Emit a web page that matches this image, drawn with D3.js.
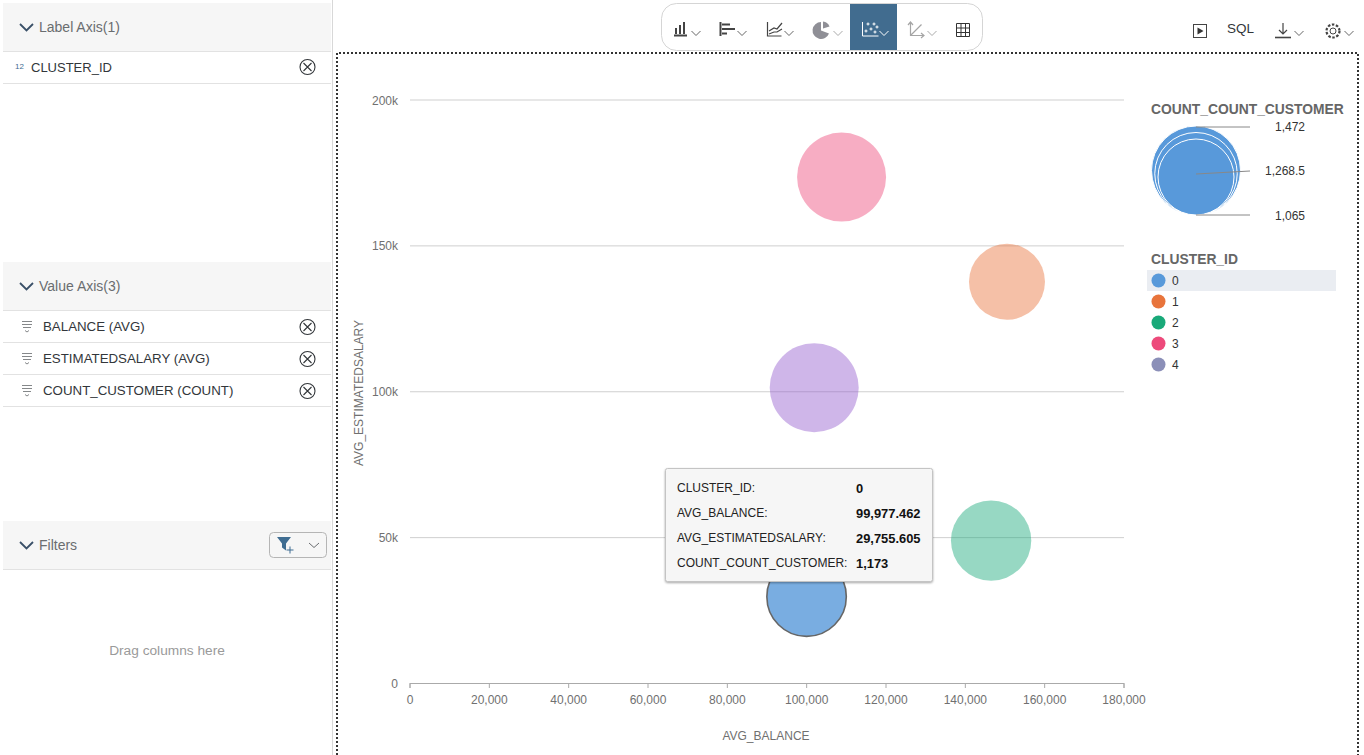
<!doctype html>
<html lang="en">
<head>
  <meta charset="utf-8">
  <title>Cluster bubble chart</title>
  <style>
    html, body { margin: 0; padding: 0; background: #fff; overflow: hidden; }
    svg { display: block; }
    text { font-family: "Liberation Sans", Arial, sans-serif; }
    .panelHead { font-size: 14px; fill: #6a6d70; }
    .panelRow { font-size: 13.3px; fill: #32363a; }
    .axisText { font-size: 12px; fill: #707070; }
    .legendTitle { font-size: 13.85px; font-weight: 700; fill: #666; }
    .legendText { font-size: 12px; fill: #333; }
    .tipLabel { font-size: 12px; fill: #222; }
    .tipValue { font-size: 12.9px; font-weight: 700; fill: #111; }
  </style>
  <script src="https://cdnjs.cloudflare.com/ajax/libs/d3/7.8.5/d3.min.js"></script>
</head>
<body>
<div id="chart"></div>
<script>
  // chart values
  var clusterIds = [0, 1, 2, 3, 4];
  var avgBalance = [99977.462, 150500, 146500, 108800, 101900];
  var avgSalary = [29755.605, 137700, 49000, 173600, 101400];
  var customerCount = [1173, 1065, 1200, 1472, 1472];
  var clusterColors = ["#5899DA", "#E8743B", "#19A979", "#ED4A7B", "#945ECF"];

  var xTicks = [0, 20000, 40000, 60000, 80000, 100000, 120000, 140000, 160000, 180000];
  var yTicks = [0, 50000, 100000, 150000, 200000];
  var sizeLegend = [1472, 1268.5, 1065];

  var labelFields = ["CLUSTER_ID"];
  var valueFields = ["BALANCE (AVG)", "ESTIMATEDSALARY (AVG)", "COUNT_CUSTOMER (COUNT)"];
  var tipLabels = ["CLUSTER_ID:", "AVG_BALANCE:", "AVG_ESTIMATEDSALARY:", "COUNT_COUNT_CUSTOMER:"];
  var tipValues = ["0", "99,977.462", "29,755.605", "1,173"];

  var svg = d3.select("#chart").append("svg")
      .attr("width", 1364)
      .attr("height", 755);

  var x = d3.scaleLinear().domain([0, 180000]).range([410, 1124]);
  var y = d3.scaleLinear().domain([0, 200000]).range([683.5, 100]);
  var r = d3.scaleLinear().domain([1065, 1472]).range([38, 44.5]);

  // left panel
  var panel = svg.append("g");

  function header(top, label) {
    panel.append("rect").attr("x", 3).attr("y", top).attr("width", 328).attr("height", 48).attr("fill", "#f6f6f6");
    panel.append("line").attr("x1", 3).attr("x2", 331).attr("y1", top + 48.5).attr("y2", top + 48.5).attr("stroke", "#e2e2e2");
    panel.append("path")
        .attr("d", "M20," + (top + 21) + "l6.5,6.5l6.5,-6.5")
        .attr("fill", "none").attr("stroke", "#3a5068").attr("stroke-width", 1.8);
    panel.append("text").attr("class", "panelHead").attr("x", 39).attr("y", top + 29).text(label);
  }

  function removeIcon(cy) {
    panel.append("circle").attr("cx", 307.5).attr("cy", cy).attr("r", 7.5)
        .attr("fill", "none").attr("stroke", "#32363a").attr("stroke-width", 1.1);
    panel.append("path")
        .attr("d", "M303.5," + (cy - 4) + "l8,8M311.5," + (cy - 4) + "l-8,8")
        .attr("fill", "none").attr("stroke", "#32363a").attr("stroke-width", 1.1);
  }

  function rowLine(yy) {
    panel.append("line").attr("x1", 3).attr("x2", 331).attr("y1", yy).attr("y2", yy).attr("stroke", "#e2e2e2");
  }

  header(3, "Label Axis(1)");
  labelFields.forEach(function(d, i) {
    var cy = 67 + i * 32;
    panel.append("text").attr("x", 15).attr("y", cy + 2).attr("font-size", 8).attr("fill", "#3f6d92").text("12");
    panel.append("text").attr("class", "panelRow").attr("x", 31).attr("y", cy + 5).style("font-size", "13px").text(d);
    removeIcon(cy);
    rowLine(cy + 16.5);
  });

  header(262, "Value Axis(3)");
  valueFields.forEach(function(d, i) {
    var cy = 327 + i * 32;
    panel.append("path")
        .attr("d", "M22," + (cy - 5.5) + "h10M22," + (cy - 2.5) + "h10M23," + (cy + 0.5) + "h8M25," + (cy + 3.5) + "l2,1.5l2,-1.5")
        .attr("fill", "none").attr("stroke", "#85888a");
    panel.append("text").attr("class", "panelRow").attr("x", 43).attr("y", cy + 4).text(d);
    removeIcon(cy);
    rowLine(cy + 15.5);
  });

  header(521, "Filters");
  panel.append("rect").attr("x", 269.5).attr("y", 532.5).attr("width", 57).attr("height", 25).attr("rx", 4)
      .attr("fill", "#f6f6f6").attr("stroke", "#b5b5b5");
  panel.append("path").attr("d", "M277,537h14l-5,6.5v7l-4,-3v-4z").attr("fill", "#3f6d92");
  panel.append("path").attr("d", "M290,546.5v7M286.5,550h7").attr("stroke", "#3f6d92").attr("fill", "none");
  panel.append("path").attr("d", "M309,543l5,4.5l5,-4.5").attr("stroke", "#6a6d70").attr("fill", "none");
  panel.append("text").attr("x", 167).attr("y", 655).attr("text-anchor", "middle")
      .attr("font-size", 13.7).attr("fill", "#9a9a9a").text("Drag columns here");

  panel.append("line").attr("x1", 332.5).attr("x2", 332.5).attr("y1", 0).attr("y2", 755).attr("stroke", "#d8d8d8");

  // toolbar
  var bar = svg.append("g").attr("fill", "none").attr("stroke", "#444");
  bar.append("rect").attr("x", 850).attr("y", 4).attr("width", 47).attr("height", 47).attr("fill", "#416c8f").attr("stroke", "none");
  bar.append("rect").attr("x", 661.5).attr("y", 3.5).attr("width", 321).attr("height", 47).attr("rx", 15)
      .attr("stroke", "#d5d5d5");

  function caret(cx, color) {
    bar.append("path").attr("d", "M" + (cx - 4.5) + ",31l4.5,4.5l4.5,-4.5").attr("stroke", color || "#666");
  }

  bar.append("path").attr("d", "M674,35.5h13M676,34v-6M680,34v-9M684,34v-12").attr("stroke-width", 2);
  caret(696);
  bar.append("path").attr("d", "M720.5,22v14M722,24.5h8M722,29h13M722,33.5h5").attr("stroke-width", 2);
  caret(742);
  bar.append("path").attr("d", "M767.5,22v14h14").attr("stroke-width", 1.2);
  bar.append("path").attr("d", "M769,31l5,-3l3,1l5,-6M769,34l5,-2l3,0l5,-3").attr("stroke-width", 1.2);
  caret(789);
  bar.append("path").attr("d", "M821,22a8.5,8.5 0 1 0 8,11.5l-8,-3z").attr("fill", "#8f8f96").attr("stroke", "none");
  bar.append("path").attr("d", "M823,21.5a8,8 0 0 1 6.5,5l-6.5,2z").attr("fill", "#8f8f96").attr("stroke", "none");
  caret(838, "#aaa");
  // scatter icon: axes and small plus marks
  bar.append("path").attr("d", "M862.5,22v14h16").attr("stroke", "#fff");
  [[868, 24], [874, 24], [871, 29], [877, 27], [866, 31], [875, 32]].forEach(function(p) {
    bar.append("path").attr("d", "M" + (p[0] - 1.5) + "," + p[1] + "h3M" + p[0] + "," + (p[1] - 1.5) + "v3").attr("stroke", "#fff");
  });
  caret(884, "#fff");
  bar.append("path").attr("d", "M910.5,23v12.5h13M910.5,35.5l11,-11M908,25l2.5,-3l2.5,3M921,33l3,2.5l-3,2.5").attr("stroke", "#a5a5a5").attr("stroke-width", 1.2);
  caret(932, "#aaa");
  bar.append("path").attr("d", "M956.5,23.5h13v13h-13zM956.5,28h13M956.5,32.5h13M961,23.5v13M965.5,23.5v13").attr("stroke", "#333");

  // right hand buttons
  bar.append("rect").attr("x", 1193.5).attr("y", 24.5).attr("width", 13).attr("height", 13).attr("stroke", "#444");
  bar.append("path").attr("d", "M1197.5,27.5l6,3.5l-6,3.5z").attr("fill", "#333").attr("stroke", "none");
  svg.append("text").attr("x", 1227).attr("y", 33).attr("font-size", 13.5).attr("fill", "#32363a").text("SQL");
  bar.append("path").attr("d", "M1275,37.5h16").attr("stroke-width", 1.6);
  bar.append("path").attr("d", "M1283,23v11M1279,30l4,4l4,-4").attr("stroke-width", 1.2);
  caret(1299);
  bar.append("circle").attr("cx", 1333).attr("cy", 31).attr("r", 3);
  bar.append("circle").attr("cx", 1333).attr("cy", 31).attr("r", 6.5).attr("stroke-width", 2.2).attr("stroke-dasharray", "2.5 1.6");
  caret(1349);

  // dotted chart frame
  svg.append("path")
      .attr("d", "M337,755V53H1358V755")
      .attr("fill", "none").attr("stroke", "#333").attr("stroke-width", 2).attr("stroke-dasharray", "2 2");

  // grid and axes
  var yAxis = svg.append("g").attr("transform", "translate(410,0)")
      .call(d3.axisLeft(y).offset(0).tickValues(yTicks).tickSize(0).tickPadding(12)
        .tickFormat(function(d) { return d === 0 ? "0" : d / 1000 + "k"; }));
  yAxis.select(".domain").remove();
  yAxis.selectAll("text").attr("class", "axisText").attr("font-family", null).attr("font-size", null).attr("dy", "0.38em");

  var grid = svg.append("g").attr("transform", "translate(410,0)")
      .call(d3.axisLeft(y).offset(0).tickValues(yTicks.slice(1)).tickSize(-714).tickFormat(""));
  grid.select(".domain").remove();
  grid.selectAll("line").attr("stroke", "#cfcfcf");

  var xAxis = svg.append("g").attr("transform", "translate(-0.5,683)")
      .call(d3.axisBottom(x).tickValues(xTicks).tickSize(5).tickPadding(7).tickFormat(d3.format(",")));
  xAxis.select(".domain").attr("stroke", "#aaa");
  xAxis.selectAll("line").attr("stroke", "#aaa");
  xAxis.selectAll("text").attr("class", "axisText").attr("font-family", null).attr("font-size", null);

  svg.append("text").attr("class", "axisText").attr("x", 766).attr("y", 740).attr("text-anchor", "middle").text("AVG_BALANCE");
  svg.append("text").attr("class", "axisText")
      .attr("transform", "translate(363,393)rotate(-90)").attr("text-anchor", "middle").text("AVG_ESTIMATEDSALARY");

  // bubbles
  svg.append("g").selectAll("circle")
      .data(clusterIds)
    .enter().append("circle")
      .attr("cx", function(d) { return x(avgBalance[d]); })
      .attr("cy", function(d) { return y(avgSalary[d]); })
      .attr("r", function(d) { return r(customerCount[d]); })
      .attr("fill", function(d) { return clusterColors[d]; })
      .attr("fill-opacity", function(d) { return d === 0 ? 0.8 : 0.45; })
      .attr("stroke", function(d) { return d === 0 ? "#666" : "none"; })
      .attr("stroke-width", 1.6);

  // size legend
  svg.append("text").attr("class", "legendTitle").attr("x", 1151).attr("y", 114).text("COUNT_COUNT_CUSTOMER");
  var legendBottom = 215;
  var legendLineY = [127, 171, 215];
  var legendLabelY = [127, 171, 216];
  sizeLegend.forEach(function(d) {
    var rad = r(d);
    svg.append("circle").attr("cx", 1196).attr("cy", legendBottom - rad).attr("r", rad)
        .attr("fill", "#5899DA").attr("stroke", "#fff").attr("stroke-width", 1);
  });
  sizeLegend.forEach(function(d, i) {
    svg.append("line").attr("x1", 1196).attr("x2", 1250)
        .attr("y1", legendLineY[i] + (i === 1 ? 3 : 0)).attr("y2", legendLineY[i])
        .attr("stroke", "#888");
    svg.append("text").attr("class", "legendText").attr("x", 1305).attr("y", legendLabelY[i] + 4)
        .attr("text-anchor", "end").text(d3.format(",")(d));
  });

  // cluster legend
  svg.append("text").attr("class", "legendTitle").attr("x", 1151).attr("y", 264).text("CLUSTER_ID");
  svg.append("rect").attr("x", 1147).attr("y", 270).attr("width", 189).attr("height", 21).attr("fill", "#eaedf2");
  clusterIds.forEach(function(d, i) {
    var cy = 280.5 + i * 21;
    svg.append("circle").attr("cx", 1158.5).attr("cy", cy).attr("r", 7).attr("fill", i === 4 ? "#8b8fb8" : clusterColors[d]);
    svg.append("text").attr("class", "legendText").attr("x", 1172).attr("y", cy + 4.5).text(d);
  });

  // tooltip
  var tip = svg.append("g");
  tip.append("rect").attr("x", 665.5).attr("y", 468.5).attr("width", 267).attr("height", 113).attr("rx", 2)
      .attr("fill", "#f6f6f6").attr("stroke", "#c4c4c4")
      .style("filter", "drop-shadow(0 1px 1px rgba(0,0,0,0.35))");
  tipLabels.forEach(function(d, i) {
    var yy = 492 + i * 25;
    tip.append("text").attr("class", "tipLabel").attr("x", 677).attr("y", yy).text(d);
    tip.append("text").attr("class", "tipValue").attr("x", 856).attr("y", yy + 1).text(tipValues[i]);
  });
</script>
</body>
</html>
